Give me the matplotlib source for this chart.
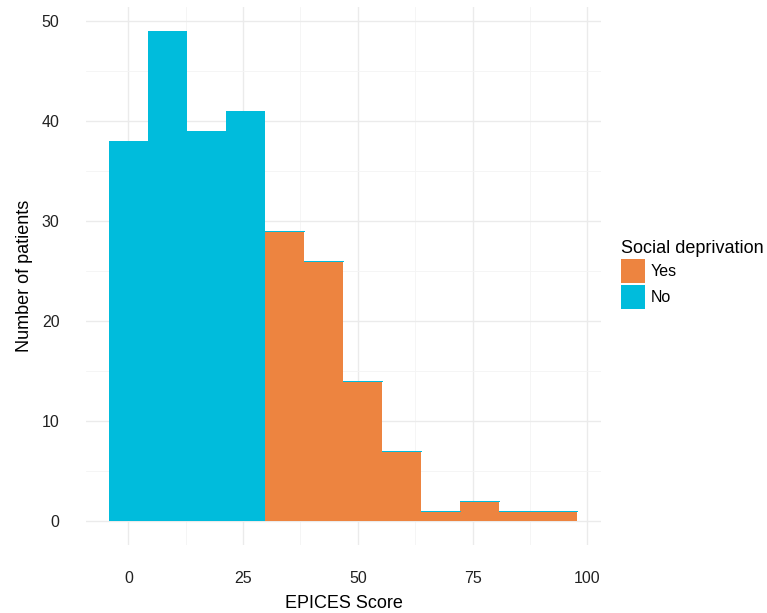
import numpy as np
import matplotlib.pyplot as plt
from matplotlib.patches import Patch

plt.rcParams['font.family'] = ['Liberation Sans', 'DejaVu Sans']

# bin edges of the histogram (EPICES score)
bin_edges = [-4.14, 4.36, 12.86, 21.36, 29.86, 38.36, 46.86, 55.36,
             63.86, 72.36, 80.86, 89.36, 97.86]
count_no = [38, 49, 39, 41, 0, 0, 0, 0, 0, 0, 0, 0]
count_yes = [0, 0, 0, 0, 29, 26, 14, 7, 1, 2, 1, 1]

col_yes = '#ED8440'
col_no = '#00BCDC'

left = np.array(bin_edges[:-1])
width = np.diff(bin_edges)
yes = np.array(count_yes)
no = np.array(count_no)

fig = plt.figure(figsize=(7.67, 6.13), dpi=100)
ax = fig.add_axes([86/767, 68/613, 515/767, 538/613])

ax.bar(left, yes, width=width, align='edge', color=col_yes, linewidth=0,
       antialiased=False, zorder=2)
# blue part stacked on top; empty bins leave a thin line over orange bars
edges = [col_no if n == 0 else 'none' for n in no]
ax.bar(left, no, width=width, bottom=yes, align='edge', color=col_no,
       edgecolor=edges, linewidth=0.4, antialiased=False, zorder=2)

ax.set_xlim(-9.25, 103.0)
ax.set_ylim(-2.45, 51.45)
ax.set_xticks([0, 25, 50, 75, 100])
ax.set_yticks([0, 10, 20, 30, 40, 50])
ax.set_xticks([12.5, 37.5, 62.5, 87.5], minor=True)
ax.set_yticks([5, 15, 25, 35, 45], minor=True)
ax.grid(True, which='major', color='#EBEBEB', linewidth=1.0, zorder=0)
ax.grid(True, which='minor', color='#F4F4F4', linewidth=0.6, zorder=0)
ax.set_axisbelow(True)
for s in ax.spines.values():
    s.set_visible(False)
ax.tick_params(which='both', length=0)
ax.tick_params(axis='x', pad=19, labelsize=11.5, colors='#222222')
ax.tick_params(axis='y', pad=19, labelsize=11.5, colors='#222222')

ax.set_xlabel('EPICES Score', fontsize=13, labelpad=6)
ax.set_ylabel('Number of patients', fontsize=13, labelpad=6)

handles = [Patch(facecolor=col_yes, label='Yes'), Patch(facecolor=col_no, label='No')]
fig.legend(handles=handles, title='Social deprivation', loc='upper left',
           bbox_to_anchor=(607/767, 1 - 226/613), frameon=False, fontsize=11.5,
           title_fontsize=13, handlelength=1.45, handleheight=1.95,
           handletextpad=0.4, labelspacing=0.1, alignment='left')

fig.savefig('out.png', dpi=100)
